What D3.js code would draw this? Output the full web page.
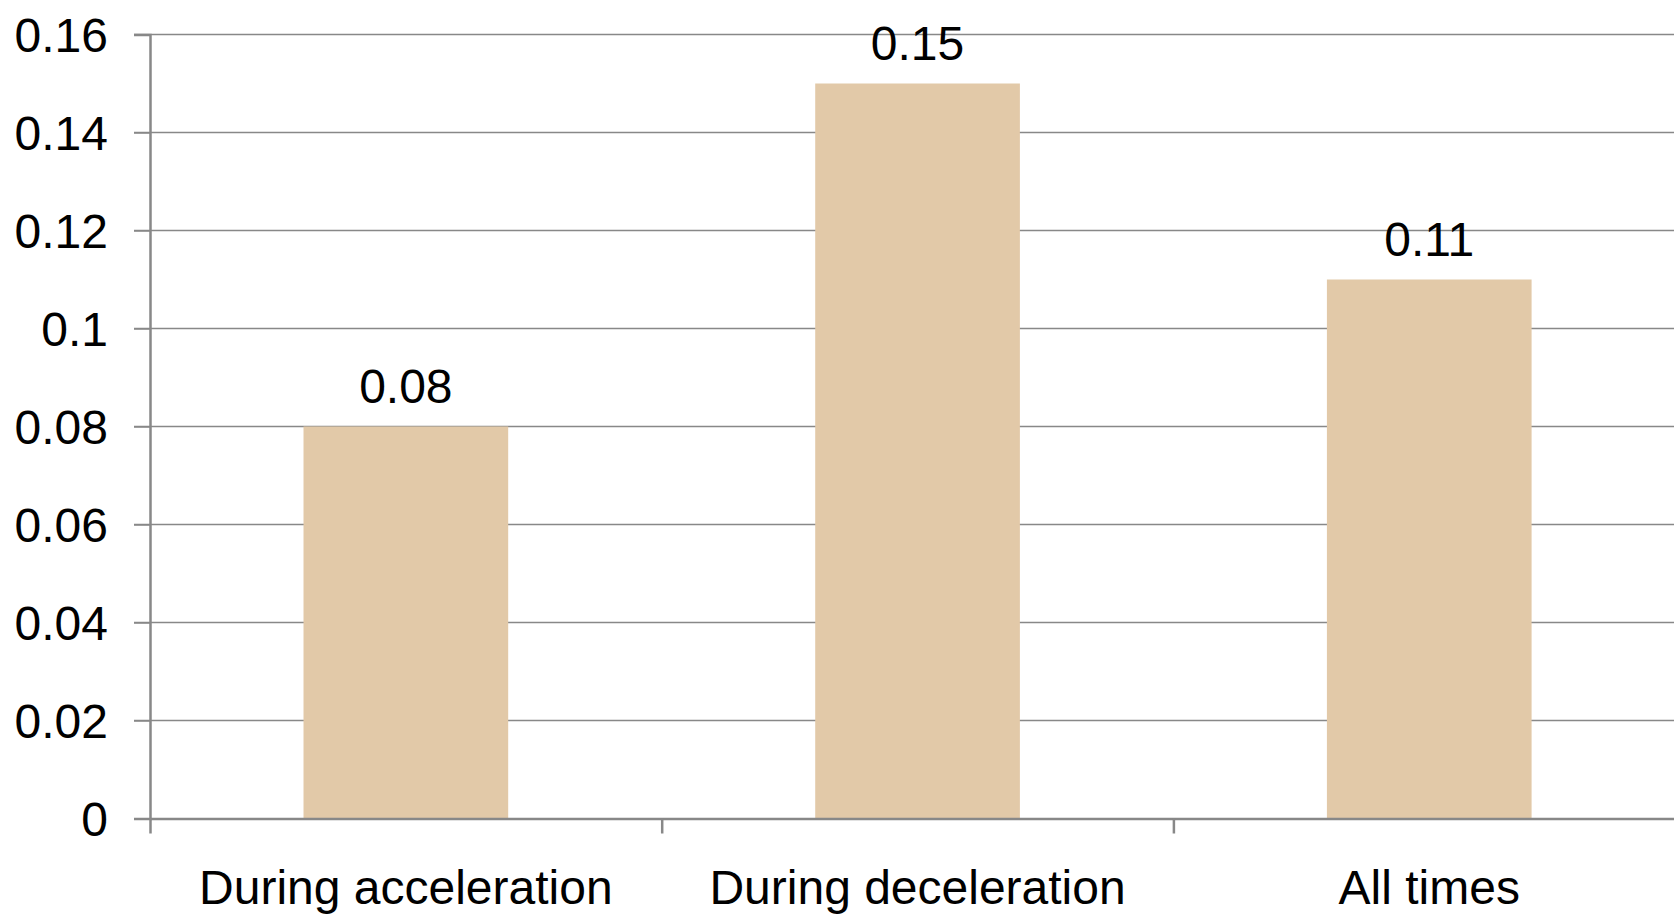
<!DOCTYPE html>
<html>
<head>
<meta charset="utf-8">
<script src="https://cdn.jsdelivr.net/npm/d3@7"></script>
<style>
  html, body { margin: 0; padding: 0; background: #fff; overflow: hidden; }
  svg { display: block; }
  text { font-family: "Liberation Sans", Arial, sans-serif; fill: #000; }
</style>
</head>
<body>
<script>
const categories = ["During acceleration", "During deceleration", "All times"];
const values = [0.08, 0.15, 0.11];
const valueLabels = ["0.08", "0.15", "0.11"];
const yTicks = [0, 0.02, 0.04, 0.06, 0.08, 0.1, 0.12, 0.14, 0.16];
const yTickLabels = ["0", "0.02", "0.04", "0.06", "0.08", "0.1", "0.12", "0.14", "0.16"];

const W = 1674, H = 915;
const svg = d3.select("body").append("svg").attr("width", W).attr("height", H);

const x0 = 150, bandW = 511.7;
const x = d3.scaleBand().domain(categories).range([x0, x0 + bandW * categories.length]).paddingInner(0).paddingOuter(0);
const y = d3.scaleLinear().domain([0, 0.16]).range([818.5, 34.5]);
const barW = x.bandwidth() / 2.5;

const gridColor = "#888888";

// gridlines
svg.append("g").selectAll("line").data(yTicks.filter(d => d > 0)).join("line")
  .attr("x1", x0 - 16).attr("x2", W)
  .attr("y1", d => y(d)).attr("y2", d => y(d))
  .attr("stroke", gridColor).attr("stroke-width", 1.5);

// bars
svg.append("g").selectAll("rect").data(values).join("rect")
  .attr("x", (d, i) => x(categories[i]) + x.bandwidth() / 2 - barW / 2)
  .attr("width", barW)
  .attr("y", d => y(d))
  .attr("height", d => y(0) - y(d))
  .attr("fill", "#E2C9A8");

// y axis
const yAxis = d3.axisLeft(y).tickValues(yTicks)
  .tickFormat((d, i) => yTickLabels[i]).tickSize(16).tickPadding(26);
const gy = svg.append("g").attr("transform", `translate(${x0},0)`).call(yAxis);
gy.select(".domain").attr("stroke", gridColor).attr("stroke-width", 2.5);
gy.selectAll(".tick line").attr("stroke", gridColor).attr("stroke-width", 1.5);
gy.selectAll(".tick text").attr("font-size", 48).attr("font-family", "Liberation Sans, Arial, sans-serif")
  .attr("fill", "#000").attr("dy", "0.36em");

// x axis
const xTickScale = d3.scaleLinear().domain([0, 3]).range([x0, x0 + bandW * 3]);
const xAxis = d3.axisBottom(xTickScale).tickValues([0, 1, 2, 3]).tickFormat("").tickSize(15).tickSizeOuter(0);
const gx = svg.append("g").attr("transform", `translate(0,${y(0)})`).call(xAxis);
gx.select(".domain").attr("stroke", gridColor).attr("stroke-width", 2.5);
gx.selectAll(".tick line").attr("stroke", gridColor).attr("stroke-width", 2.5);

// category labels
svg.append("g").selectAll("text").data(categories).join("text")
  .attr("x", d => x(d) + x.bandwidth() / 2)
  .attr("y", 904)
  .attr("text-anchor", "middle")
  .attr("font-size", 48)
  .text(d => d);

// value labels
svg.append("g").selectAll("text").data(values).join("text")
  .attr("x", (d, i) => x(categories[i]) + x.bandwidth() / 2)
  .attr("y", d => y(d) - 24)
  .attr("text-anchor", "middle")
  .attr("font-size", 48)
  .text((d, i) => valueLabels[i]);
</script>
</body>
</html>
